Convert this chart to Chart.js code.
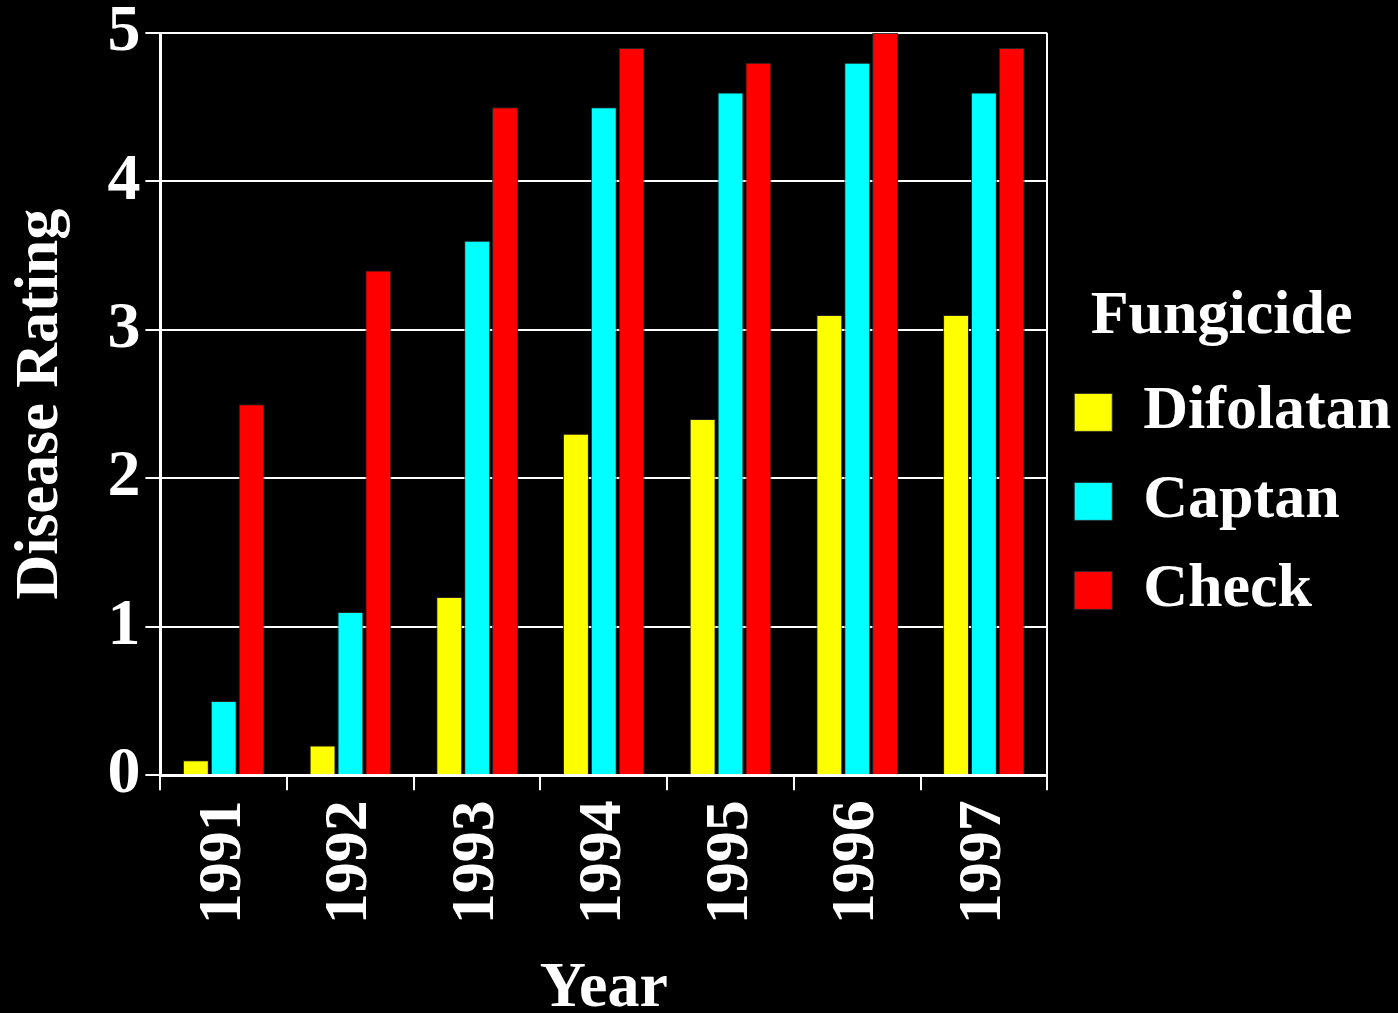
<!DOCTYPE html>
<html><head><meta charset="utf-8">
<style>html,body{margin:0;padding:0;background:#000;} #wrap{width:1398px;height:1013px;position:relative;}</style>
<script src="https://cdn.jsdelivr.net/npm/chart.js@4/dist/chart.umd.min.js"></script>
</head><body><div id="wrap"><canvas id="c"></canvas></div>
<script>
const years = ['1991','1992','1993','1994','1995','1996','1997'];
const difolatan = [0.1, 0.2, 1.2, 2.3, 2.4, 3.1, 3.1];
const captan = [0.5, 1.1, 3.6, 4.5, 4.6, 4.8, 4.6];
const check = [2.5, 3.4, 4.5, 4.9, 4.8, 5.0, 4.9];
const seriesNames = ['Difolatan', 'Captan', 'Check'];
const seriesColors = ['#ffff00', '#00ffff', '#ff0000'];
const yMin = 0, yMax = 5, yStep = 1;

const FONT = '"Liberation Serif", "Times New Roman", serif';
const seriesData = [difolatan, captan, check];

new Chart(document.getElementById('c'), {
  type: 'bar',
  data: {
    labels: years,
    datasets: seriesNames.map((n, i) => ({
      label: n,
      data: seriesData[i],
      backgroundColor: seriesColors[i],
      borderColor: 'rgba(40,40,40,0.9)',
      borderWidth: 1,
      categoryPercentage: 0.66,
      barPercentage: 0.93
    }))
  },
  options: {
    responsive: true,
    maintainAspectRatio: false,
    devicePixelRatio: 1,
    animation: false,
    layout: { padding: { top: -5, right: 2, bottom: 0, left: 1 } },
    plugins: {
      tooltip: { enabled: false },
      legend: {
        position: 'right',
        align: 'start',
        title: { display: true, text: 'Fungicide', color: '#fff', font: { family: FONT, size: 62, weight: 'bold' }, padding: { top: 291, bottom: -6 } },
        labels: { color: '#fff', boxWidth: 38, boxHeight: 38, padding: 27, font: { family: FONT, size: 62, weight: 'bold' } }
      }
    },
    scales: {
      x: {
        ticks: { color: '#fff', minRotation: 90, maxRotation: 90, padding: 10, font: { family: FONT, size: 62, weight: 'bold' } },
        grid: {
          drawOnChartArea: true, tickLength: 15, tickColor: '#fff', lineWidth: 2, tickWidth: 2,
          color: (ctx) => (ctx.tick ? 'rgba(0,0,0,0)' : '#fff')
        },
        border: { display: true, color: '#fff', width: 3 },
        title: { display: true, text: 'Year', color: '#fff', padding: { top: 17, bottom: -15 }, font: { family: FONT, size: 64, weight: 'bold' } }
      },
      y: {
        min: yMin, max: yMax,
        ticks: { stepSize: yStep, color: '#fff', padding: 5, font: { family: FONT, size: 66, weight: 'bold', lineHeight: 0.85 } },
        grid: { color: '#fff', lineWidth: 2, tickLength: 15, tickColor: '#fff' },
        border: { display: true, color: '#fff', width: 3 },
        title: { display: true, text: 'Disease Rating', color: '#fff', padding: { top: 3, bottom: 24 }, font: { family: FONT, size: 62, weight: 'bold' } }
      }
    }
  }
});
</script>
</body></html>
